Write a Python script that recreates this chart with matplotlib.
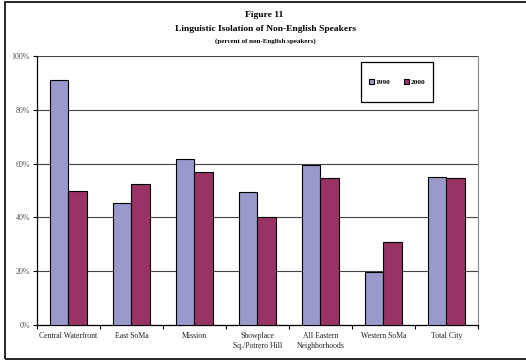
import numpy as np
import matplotlib
matplotlib.use('Agg')
import matplotlib.pyplot as plt
from matplotlib.patches import Rectangle

plt.rcParams['font.family'] = ['Liberation Serif', 'DejaVu Serif']

categories = ['Central Waterfront', 'East SoMa', 'Mission', 'Showplace\nSq./Potrero Hill',
              'All Eastern\nNeighborhoods', 'Western SoMa', 'Total City']
vals_1990 = [91.2, 45.3, 61.7, 49.3, 59.5, 19.7, 55.2]
vals_2000 = [49.9, 52.4, 57.0, 40.2, 54.6, 30.9, 54.5]

c1990 = '#9999cc'
c2000 = '#993366'

fig = plt.figure(figsize=(5.26, 3.60), dpi=100)
ax = fig.add_axes([0.0703, 0.0972, 0.8384, 0.7472])

x = np.arange(len(categories))
w = 0.29
ax.bar(x - w / 2, vals_1990, w, color=c1990, edgecolor='black', linewidth=0.8, label='1990', zorder=3)
ax.bar(x + w / 2, vals_2000, w, color=c2000, edgecolor='black', linewidth=0.8, label='2000', zorder=3)

ax.set_xlim(-0.5, len(categories) - 0.5)
ax.set_ylim(0, 100)
ax.set_yticks(range(0, 101, 20))
ax.set_yticklabels([f'{v}%' for v in range(0, 101, 20)], fontsize=5.8, color='#555555')
ax.yaxis.grid(True, color='#444444', linewidth=0.8, zorder=0)

ax.set_xticks(x)
ax.set_xticklabels(categories, fontsize=5.6, color='#222222', linespacing=1.4)
ax.set_xticks(np.arange(-0.5, len(categories), 1), minor=True)
ax.tick_params(axis='x', which='major', length=0, pad=5)
ax.tick_params(axis='x', which='minor', length=3, width=0.8, direction='out')
ax.tick_params(axis='y', length=3, width=0.8, direction='out', pad=2)

ax.spines['top'].set_visible(False)
ax.spines['right'].set_color('#888888')
ax.spines['left'].set_linewidth(0.9)
ax.spines['bottom'].set_linewidth(0.9)

# legend box
ax.add_patch(Rectangle((0.735, 0.829), 0.163, 0.149, transform=ax.transAxes,
                       fill=True, facecolor='white', edgecolor='black', linewidth=0.9, zorder=5))
leg = ax.legend(loc='center', bbox_to_anchor=(0.8165, 0.9035), ncol=2, frameon=False,
                handlelength=0.7, handleheight=0.7, handletextpad=0.2,
                columnspacing=1.8, prop={'weight': 'bold', 'size': 5.3})
leg.set_zorder(6)

fig.text(0.503, 0.958, 'Figure 11', ha='center', va='center', fontsize=6.8, weight='bold')
fig.text(0.505, 0.919, 'Linguistic Isolation of Non-English Speakers', ha='center', va='center',
         fontsize=6.8, weight='bold')
fig.text(0.505, 0.886, '(percent of non-English speakers)', ha='center', va='center',
         fontsize=5, weight='bold')

# outer frame
fig.patches.append(Rectangle((5 / 526, 1 / 360), 1.1, 357 / 360, transform=fig.transFigure,
                             fill=False, edgecolor='black', linewidth=1.2))

fig.savefig('out.png', dpi=100)
